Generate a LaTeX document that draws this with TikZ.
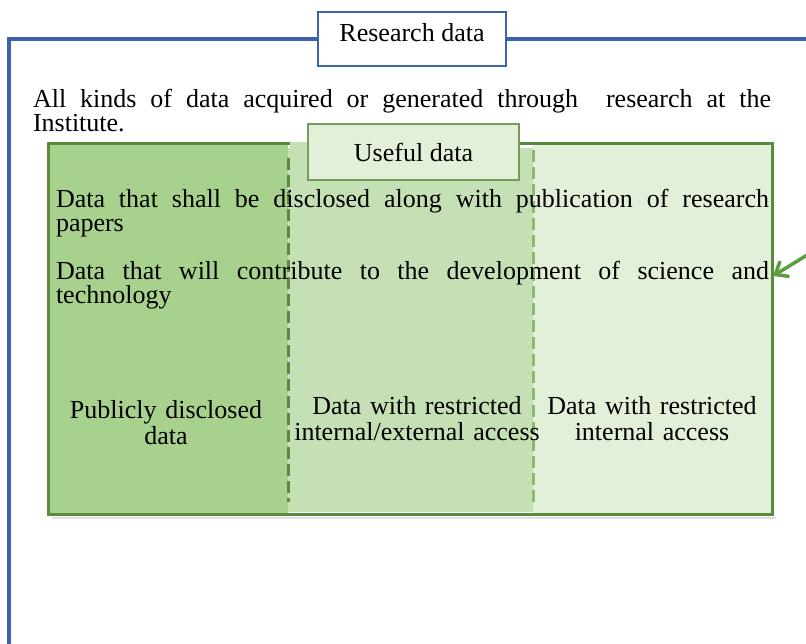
\documentclass[tikz,border=0pt]{standalone}
\usepackage{fontspec}
\setmainfont{Liberation Serif}
\usetikzlibrary{arrows.meta}
\definecolor{frameblue}{HTML}{3D63AD}
\definecolor{gdark}{HTML}{5A8A3C}
\definecolor{gA}{HTML}{A9D18E}
\definecolor{gB}{HTML}{C5E0B4}
\definecolor{gC}{HTML}{E2F0D9}
\definecolor{gmid}{HTML}{8DBB6E}
\definecolor{garrow}{HTML}{5E9C3E}
\begin{document}
\begin{tikzpicture}[x=1pt,y=-1pt,
  txt/.style={font=\fontsize{26}{24}\selectfont, inner sep=0pt, outer sep=0pt},
  celltxt/.style={font=\fontsize{26}{26.5}\selectfont, inner sep=0pt, text width=270pt, align=center},
  titlebox/.style={font=\fontsize{26}{26}\selectfont, inner sep=0pt, fill=white},
]
\useasboundingbox (0,0) rectangle (806,644);
\fill[white] (0,0) rectangle (806,644);
% blue frame
\draw[frameblue, line width=4] (9,650) -- (9,39) -- (812,39);
\node[titlebox, draw=frameblue, line width=2, minimum width=188, minimum height=54, text height=18, text depth=12] (rd) at (412,39) {Research data};
% intro text
\node[txt, anchor=base west, text width=738pt, align=justify] (intro) at (33,108)
  {All kinds of data acquired or generated through\ \ research at the\linebreak Institute.};
% green box
\fill[gA] (48,144) rectangle (288,514);
\fill[gB] (288,148) rectangle (533,512);
\fill[gC] (533,144) rectangle (772,514);
\draw[black!12, line width=2] (52,518) -- (776,518);
\draw[gdark, line width=3] (48,144) rectangle (772,514);
\fill[gB] (289.5,142) rectangle (310,150);
\draw[gdark, line width=3, dash pattern=on 12pt off 5pt] (288,158) -- (288,502);
\draw[gmid, line width=3, dash pattern=on 12pt off 5pt] (533,150) -- (533,506);
\node[titlebox, fill=gC, draw=gdark!85, line width=2, minimum width=211, minimum height=56, text height=20, text depth=0] (ud) at (413.5,152) {Useful data};
% paragraphs
\node[txt, anchor=base west, text width=713pt, align=justify] (p1) at (56,208)
  {Data that shall be disclosed along with publication of research\linebreak papers};
\node[txt, anchor=base west, text width=713pt, align=justify] (p2) at (56,280)
  {Data that will contribute to the development of science and\linebreak technology};
% cells
\node[celltxt, anchor=base] (c1) at (166,418) {Publicly disclosed\\data};
\node[celltxt, anchor=base] (c2) at (417,414) {Data with restricted\\internal/external access};
\node[celltxt, anchor=base] (c3) at (652,414) {Data with restricted\\internal access};
% arrow
\coordinate (arrS) at (812,252);
\coordinate (arrT) at (773,276);
\draw[garrow, line width=3.5, -{Straight Barb[length=11pt,width=18pt]}] (arrS) -- (arrT);
\end{tikzpicture}
\end{document}
